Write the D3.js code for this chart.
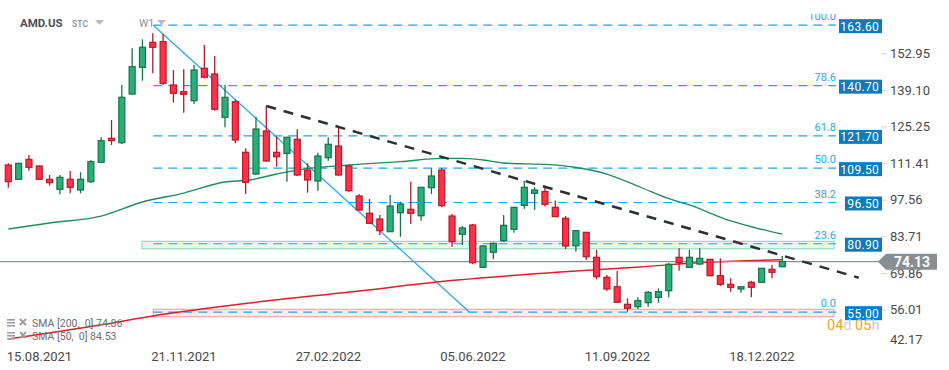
<!DOCTYPE html>
<html>
<head>
<meta charset="utf-8">
<script src="https://cdn.jsdelivr.net/npm/d3@7"></script>
<style>
    body { margin: 0; background: #fff; }
    svg { display: block; font-family: Roboto, "Noto Sans", sans-serif; }
</style>
</head>
<body>
<svg id="chart" width="949" height="370"></svg>
<script>

// weekly candles, AMD.US
let start_date = new Date(2021, 7, 15);

let opens = [110.69, 105.28, 112.84, 110.31, 105.28, 101.49, 105.28, 101.23, 104.37, 111.71,
    120.79, 119.12, 137.55, 147.65, 157.11, 157.34, 140.96, 138.42, 135.02, 147.27,
    145.12, 128.74, 134.64, 115.49, 107.28, 123.55, 115.49, 115.11, 120.41, 108.79,
    104.63, 113.45, 117.88, 110.31, 98.96, 92.41, 90.26, 85.45, 92.64, 93.93,
    91.50, 102.10, 108.79, 91.39, 84.47, 87.99, 71.98, 77.66, 82.05, 86.36,
    95.44, 99.98, 100.66, 94.68, 90.52, 80.15, 85.22, 75.77, 68.20, 64.64,
    57.98, 57.07, 58.59, 60.63, 63.13, 75.77, 71.98, 73.23, 75.01, 68.80,
    65.55, 63.77, 66.31, 66.31, 71.22, 72.21];

let highs = [111.33, 111.50, 114.47, 110.50, 106.90, 106.90, 108.42, 107.93, 112.58, 121.17,
    127.71, 140.96, 154.84, 158.25, 160.52, 160.25, 146.63, 146.90, 148.52, 156.09,
    151.93, 140.96, 135.55, 117.01, 128.96, 133.01, 121.47, 121.39, 124.19, 111.33,
    115.34, 121.17, 125.44, 110.69, 99.60, 97.82, 91.77, 99.34, 96.80, 104.37,
    102.40, 109.44, 109.44, 92.15, 87.61, 88.37, 80.42, 81.35, 91.77, 94.80,
    104.75, 102.25, 102.55, 97.26, 91.39, 86.00, 85.30, 78.53, 69.07, 70.58,
    60.25, 60.63, 63.02, 64.04, 73.72, 79.17, 78.53, 79.17, 75.10, 75.39,
    67.82, 64.90, 66.91, 71.60, 72.85, 76.26];

let lows = [102.10, 105.00, 108.53, 105.00, 102.86, 99.60, 99.98, 99.98, 103.99, 111.60,
    118.25, 118.63, 137.30, 142.58, 145.38, 140.96, 134.26, 130.48, 133.77, 143.49,
    131.23, 124.95, 118.90, 99.71, 106.90, 111.94, 110.04, 104.37, 106.53, 100.21,
    100.96, 112.31, 106.60, 100.59, 93.40, 88.37, 84.20, 85.30, 83.56, 88.37,
    89.61, 99.71, 94.68, 79.77, 80.42, 73.12, 71.90, 75.01, 81.67, 85.07,
    94.15, 93.66, 94.99, 91.00, 78.90, 77.88, 74.74, 67.44, 63.02, 58.60,
    55.18, 56.20, 57.07, 58.59, 60.63, 70.70, 71.90, 72.85, 68.70, 64.91,
    62.75, 62.37, 60.63, 66.20, 67.82, 71.98];

let closes = [104.37, 111.33, 109.82, 105.28, 103.99, 106.03, 102.25, 105.28, 111.94, 119.88,
    119.88, 136.30, 147.88, 155.22, 155.22, 141.60, 137.82, 137.44, 146.63, 143.87,
    131.76, 136.30, 120.15, 104.14, 124.31, 112.20, 113.83, 121.17, 106.90, 105.01,
    114.09, 118.52, 106.90, 100.96, 93.66, 88.63, 85.83, 95.17, 95.93, 92.41,
    102.25, 106.53, 95.29, 81.67, 86.85, 73.72, 80.04, 81.06, 87.87, 94.68,
    102.25, 101.23, 95.82, 91.13, 80.04, 85.83, 75.99, 68.43, 63.77, 58.74,
    56.47, 59.34, 62.52, 62.75, 73.12, 73.72, 75.77, 75.39, 68.80, 65.55,
    64.42, 64.64, 64.42, 71.60, 70.09, 74.13];

// moving averages, read at some candles
let sma50_idx = [0, 4, 9, 13, 17, 21, 23.4, 26, 28, 33, 38, 42, 44, 46, 48, 52.5, 54.7, 58, 61.2, 63.8, 66, 70, 72.5, 75];
let sma50_val = [86.47, 88.74, 91.39, 96.69, 100.09, 104.26, 105.01, 107.28, 108.79, 110.69, 111.94, 113.22, 113.22, 112.58, 111.45, 110.80, 109.93, 107.28, 102.37, 98.21, 95.56, 89.51, 86.85, 84.53];

let sma200_idx = [0, 8.9, 14, 23.4, 33.1, 43.5, 53.5, 61.2, 67.7, 75];
let sma200_val = [44.85, 50.15, 53.56, 58.48, 62.64, 67.18, 70.20, 72.10, 73.87, 74.86];

// fibonacci retracement
let fib_prices = [163.60, 140.70, 121.70, 109.50, 96.50, 80.90, 55.00];
let fib_labels = ['100.0', '78.6', '61.8', '50.0', '38.2', '23.6', '0.0'];
let fib_trend = [[14.05, 163.60], [44.7, 55.00]];

// drawn objects
let down_trend = [[25, 133.01], [82.4, 68.05]];
let green_zone = [12.96, 79.0, 81.8];
let red_zone = [14.05, 53.3, 56.1];

let y_ticks = [152.95, 139.10, 125.25, 111.41, 97.56, 83.71, 69.86, 56.01, 42.17];
let last_price = 74.13;


let svg = d3.select('#chart'),
    width = 949,
    height = 370,
    plot_right = 881,  // axis line
    fib_right = 836;   // right end of fib lines

let dates = d3.range(opens.length).map(i => d3.timeWeek.offset(start_date, i));

let x = d3.scaleLinear()
    .domain([0, opens.length - 1])
    .range([8.3, 8.3 + 10.32 * (opens.length - 1)]);

let xt = d3.scaleTime()
    .domain([dates[0], dates[dates.length - 1]])
    .range(x.range());

let y = d3.scaleLinear()
    .domain([152.95, 42.17])
    .range([53.3, 346.1]);

let defs = svg.append('defs');
defs.append('clipPath')
    .attr('id', 'plot-clip')
    .append('rect')
    .attr('x', 0)
    .attr('y', 14)
    .attr('width', plot_right)
    .attr('height', 326);

let plot = svg.append('g').attr('clip-path', 'url(#plot-clip)');

draw_zones();
draw_fib();
draw_sma();
draw_price_line();
draw_candles();
draw_trend();
draw_axes();
draw_labels();


function draw_zones () {

    plot.append('rect')
        .attr('x', x(green_zone[0]))
        .attr('y', y(green_zone[2]))
        .attr('width', fib_right - 2 - x(green_zone[0]))
        .attr('height', y(green_zone[1]) - y(green_zone[2]))
        .attr('fill', '#e7f8f0')
        .attr('stroke', '#92dfc0')
        .attr('stroke-width', 1.2);

    plot.append('rect')
        .attr('x', x(red_zone[0]))
        .attr('y', y(red_zone[2]))
        .attr('width', fib_right - 2 - x(red_zone[0]))
        .attr('height', y(red_zone[1]) - y(red_zone[2]))
        .attr('fill', '#fdeaea')
        .attr('stroke', '#f3aaaa')
        .attr('stroke-width', 1.2);

}

function draw_fib () {

    let x0 = x(fib_trend[0][0]);

    plot.selectAll('.fib')
        .data(fib_prices)
        .enter()
        .append('line')
        .attr('class', 'fib')
        .attr('x1', x0)
        .attr('x2', fib_right)
        .attr('y1', d => y(d))
        .attr('y2', d => y(d))
        .attr('stroke', '#1ba5ee')
        .attr('stroke-width', 1.2)
        .attr('stroke-dasharray', '9,6');

    plot.selectAll('.fib-label')
        .data(fib_prices)
        .enter()
        .append('text')
        .attr('class', 'fib-label')
        .attr('x', fib_right)
        .attr('y', d => y(d) - 5)
        .attr('text-anchor', 'end')
        .attr('fill', '#27a8f0')
        .attr('font-size', 11)
        .text((d, i) => fib_labels[i]);

    plot.append('line')
        .attr('x1', x(fib_trend[0][0]))
        .attr('y1', y(fib_trend[0][1]))
        .attr('x2', x(fib_trend[1][0]))
        .attr('y2', y(fib_trend[1][1]))
        .attr('stroke', '#2aa9ea')
        .attr('stroke-width', 1.3);

}

function draw_sma () {

    let line = d3.line()
        .x(d => x(d[0]))
        .y(d => y(d[1]))
        .curve(d3.curveMonotoneX);

    plot.append('path')
        .datum(d3.zip(sma50_idx, sma50_val))
        .attr('d', line)
        .attr('fill', 'none')
        .attr('stroke', '#1f8c5c')
        .attr('stroke-width', 1.3);

    plot.append('path')
        .datum(d3.zip(sma200_idx, sma200_val))
        .attr('d', line)
        .attr('fill', 'none')
        .attr('stroke', '#d9202b')
        .attr('stroke-width', 1.5);

}

function draw_price_line () {

    plot.append('line')
        .attr('x1', 0)
        .attr('x2', plot_right)
        .attr('y1', y(last_price))
        .attr('y2', y(last_price))
        .attr('stroke', '#8c9194')
        .attr('stroke-width', 1.2);

}

function draw_candles () {

    let candles = plot.selectAll('.candle')
        .data(d3.range(opens.length))
        .enter()
        .append('g')
        .attr('class', 'candle');

    let up = i => closes[i] >= opens[i];

    candles.append('line')
        .attr('x1', i => x(i))
        .attr('x2', i => x(i))
        .attr('y1', i => y(highs[i]))
        .attr('y2', i => y(lows[i]))
        .attr('stroke', i => up(i) ? '#17714a' : '#b51a2c')
        .attr('stroke-width', 1.3);

    candles.append('rect')
        .attr('x', i => x(i) - 3)
        .attr('width', 6)
        .attr('y', i => y(Math.max(opens[i], closes[i])))
        .attr('height', i => Math.max(1.5, Math.abs(y(opens[i]) - y(closes[i]))))
        .attr('fill', i => up(i) ? '#26b277' : '#fe3246')
        .attr('stroke', i => up(i) ? '#17714a' : '#b51a2c')
        .attr('stroke-width', 1.2);

}

function draw_trend () {

    plot.append('line')
        .attr('x1', x(down_trend[0][0]))
        .attr('y1', y(down_trend[0][1]))
        .attr('x2', x(down_trend[1][0]))
        .attr('y2', y(down_trend[1][1]))
        .attr('stroke', '#2b3035')
        .attr('stroke-width', 2.5)
        .attr('stroke-dasharray', '10,8');

}

function draw_axes () {

    let y_axis = svg.append('g')
        .attr('transform', 'translate(' + plot_right + ',0)')
        .call(d3.axisRight(y).tickValues(y_ticks).tickSize(6).tickPadding(3).tickFormat(d3.format('.2f')));

    y_axis.select('.domain').remove();
    y_axis.selectAll('line').attr('stroke', '#d5d5d5');
    y_axis.selectAll('text')
        .attr('fill', '#4a4a4a')
        .attr('font-size', 13)
        .attr('font-family', 'Roboto, sans-serif');

    // bottom tick label is held inside the plot
    y_axis.selectAll('.tick')
        .filter(d => d === 42.17)
        .attr('transform', 'translate(0,' + 340 + ')')
        .select('line').remove();

    let x_axis = svg.append('g')
        .attr('transform', 'translate(0,345)')
        .call(d3.axisBottom(xt)
            .tickValues(dates.filter((d, i) => i % 14 === 0))
            .tickSize(0)
            .tickPadding(7)
            .tickFormat(d3.timeFormat('%d.%m.%Y')));

    x_axis.select('.domain').remove();
    x_axis.selectAll('text')
        .attr('text-anchor', 'start')
        .attr('dx', -2)
        .attr('fill', '#4a4a4a')
        .attr('font-size', 13)
        .attr('font-family', 'Roboto, sans-serif');

}

function draw_labels () {

    // price boxes for the fib levels
    let boxes = svg.selectAll('.fib-box')
        .data(fib_prices)
        .enter()
        .append('g')
        .attr('class', 'fib-box')
        .attr('transform', d => 'translate(839,' + (y(d) + 1) + ')');

    boxes.append('rect')
        .attr('x', d => d >= 100 ? 0 : 6)
        .attr('y', -7)
        .attr('width', d => d >= 100 ? 43 : 37)
        .attr('height', 14)
        .attr('fill', '#0b7cc0');

    boxes.append('text')
        .attr('x', 40)
        .attr('y', 4.5)
        .attr('text-anchor', 'end')
        .attr('fill', '#fff')
        .attr('font-size', 12)
        .attr('letter-spacing', 0.3)
        .text(d => d.toFixed(2));

    // last price marker
    let ly = y(last_price);
    svg.append('path')
        .attr('d', 'M878,' + ly + 'L886,' + (ly - 8) + 'L937,' + (ly - 8) + 'L937,' + (ly + 8) + 'L886,' + (ly + 8) + 'Z')
        .attr('fill', '#898e92');

    svg.append('text')
        .attr('x', 912)
        .attr('y', ly + 5)
        .attr('text-anchor', 'middle')
        .attr('fill', '#fff')
        .attr('font-size', 14)
        .attr('font-weight', 'bold')
        .text(last_price.toFixed(2));

    // header
    svg.append('text')
        .attr('x', 20)
        .attr('y', 27)
        .attr('fill', '#4b4f54')
        .attr('font-size', 11.5)
        .attr('font-weight', 'bold')
        .text('AMD.US');

    svg.append('text')
        .attr('x', 72)
        .attr('y', 27)
        .attr('fill', '#9aa0a5')
        .attr('font-size', 8.5)
        .attr('font-weight', 'bold')
        .text('STC');

    svg.append('text')
        .attr('x', 139)
        .attr('y', 27)
        .attr('fill', '#8d9296')
        .attr('font-size', 10.5)
        .text('W1');

    svg.selectAll('.caret')
        .data([95, 157])
        .enter()
        .append('path')
        .attr('class', 'caret')
        .attr('d', d => 'M' + d + ',20L' + (d + 9) + ',20L' + (d + 4.5) + ',25Z')
        .attr('fill', '#b8bcc0');

    // indicator legend
    let legend = svg.selectAll('.legend')
        .data(['SMA [200,  0] 74.86', 'SMA [50,  0] 84.53'])
        .enter()
        .append('g')
        .attr('class', 'legend')
        .attr('transform', (d, i) => 'translate(0,' + (323 + i * 13) + ')');

    legend.append('rect').attr('x', 7).attr('y', -4).attr('width', 8).attr('height', 1.6).attr('fill', '#9a9ea2');
    legend.append('rect').attr('x', 7).attr('y', -1).attr('width', 8).attr('height', 1.6).attr('fill', '#9a9ea2');
    legend.append('rect').attr('x', 7).attr('y', 2).attr('width', 8).attr('height', 1.6).attr('fill', '#9a9ea2');

    legend.append('path')
        .attr('d', 'M20,-4L26,2M26,-4L20,2')
        .attr('stroke', '#9a9ea2')
        .attr('stroke-width', 2);

    legend.append('text')
        .attr('x', 32)
        .attr('y', 3.5)
        .attr('fill', '#6a6e72')
        .attr('font-size', 10.5)
        .attr('xml:space', 'preserve')
        .text(d => d);

    // time left on the candle
    let timer = svg.append('text')
        .attr('x', 827)
        .attr('y', 330)
        .attr('font-size', 14.5);

    [['04', '#f7a21b'], ['d ', '#c9cccf'], ['05', '#f7a21b'], ['h', '#c9cccf']].forEach(p => {
        timer.append('tspan').attr('fill', p[1]).attr('xml:space', 'preserve').text(p[0]);
    });

}

</script>
</body>
</html>
